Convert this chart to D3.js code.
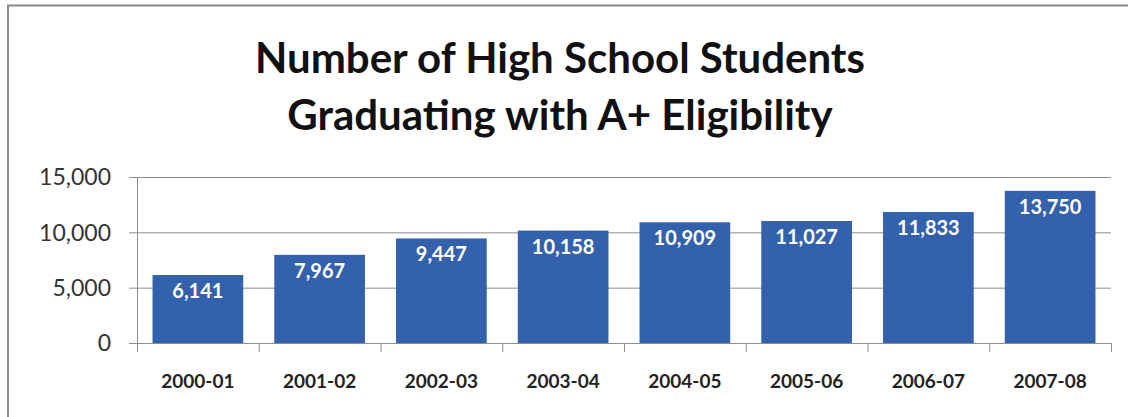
<!DOCTYPE html>
<html>
<head>
<meta charset="utf-8">
<script src="https://cdn.jsdelivr.net/npm/d3@7"></script>
<style>
  html, body { margin: 0; padding: 0; background: #fff; }
  svg { display: block; }
</style>
</head>
<body>
<div id="chart"></div>
<script>
const years = ["2000-01", "2001-02", "2002-03", "2003-04", "2004-05", "2005-06", "2006-07", "2007-08"];
const students = [6141, 7967, 9447, 10158, 10909, 11027, 11833, 13750];
const yTicks = [0, 5000, 10000, 15000];
const titleLines = ["Number of High School Students", "Graduating with A+ Eligibility"];

const width = 1128;
const height = 417;
const font = "Lato, 'Open Sans', sans-serif";

const svg = d3.select("#chart")
    .append("svg")
    .attr("width", width)
    .attr("height", height);

// frame (only top and left edge show in the picture)
svg.append("path")
    .attr("d", `M8,${height} L8,5.5 L${width},5.5`)
    .attr("fill", "none")
    .attr("stroke", "#8a8a8a")
    .attr("stroke-width", 2);

svg.append("g")
    .attr("font-family", font)
    .attr("font-weight", "bold")
    .attr("font-size", 42)
    .attr("fill", "#111")
    .attr("text-anchor", "middle")
    .selectAll("text")
    .data(titleLines)
    .join("text")
        .attr("x", 560)
        .attr("y", (d, i) => 73 + i * 57)
        .text(d => d);

const x = d3.scaleBand()
    .domain(years)
    .range([137, 1111])
    .paddingInner(0.255)
    .paddingOuter(0.1275);

const y = d3.scaleLinear()
    .domain([0, 15000])
    .range([343, 177]);

// gridlines
svg.append("g")
    .selectAll("line")
    .data(yTicks)
    .join("line")
        .attr("x1", 129)
        .attr("x2", 1111)
        .attr("y1", d => y(d) + 0.5)
        .attr("y2", d => y(d) + 0.5)
        .attr("stroke", "#8c8c8c")
        .attr("stroke-width", 1);

// y axis line
svg.append("line")
    .attr("x1", 137.5).attr("x2", 137.5)
    .attr("y1", y(15000)).attr("y2", y(0) + 0.5)
    .attr("stroke", "#8c8c8c");

// y tick labels
svg.append("g")
    .attr("font-family", font)
    .attr("font-size", 23)
    .attr("fill", "#333")
    .attr("text-anchor", "end")
    .selectAll("text")
    .data(yTicks)
    .join("text")
        .attr("x", 111)
        .attr("y", d => y(d))
        .attr("dy", "0.36em")
        .text(d => d3.format(",")(d));

// category ticks
svg.append("g")
    .selectAll("line")
    .data(d3.range(years.length + 1))
    .join("line")
        .attr("x1", i => 137 + i * (974 / years.length) + 0.5)
        .attr("x2", i => 137 + i * (974 / years.length) + 0.5)
        .attr("y1", y(0))
        .attr("y2", y(0) + 9)
        .attr("stroke", "#8c8c8c");

// bars
svg.append("g")
    .selectAll("rect")
    .data(students)
    .join("rect")
        .attr("x", (d, i) => x(years[i]))
        .attr("y", d => y(d))
        .attr("width", x.bandwidth())
        .attr("height", d => y(0) - y(d))
        .attr("fill", "#3461ab");

// value labels
svg.append("g")
    .attr("font-family", font)
    .attr("font-weight", "bold")
    .attr("font-size", 20)
    .attr("fill", "#fff")
    .attr("text-anchor", "middle")
    .selectAll("text")
    .data(students)
    .join("text")
        .attr("x", (d, i) => x(years[i]) + x.bandwidth() / 2)
        .attr("y", d => y(d) + 23)
        .text(d => d3.format(",")(d));

// category labels
svg.append("g")
    .attr("font-family", font)
    .attr("font-weight", "bold")
    .attr("font-size", 19)
    .attr("fill", "#222")
    .attr("text-anchor", "middle")
    .selectAll("text")
    .data(years)
    .join("text")
        .attr("x", d => x(d) + x.bandwidth() / 2)
        .attr("y", 388)
        .text(d => d);
</script>
</body>
</html>
